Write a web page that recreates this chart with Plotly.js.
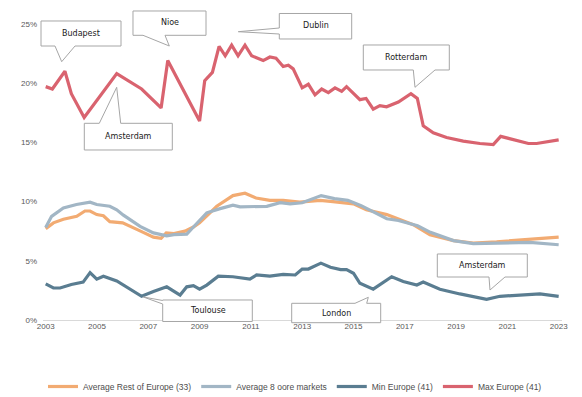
<!DOCTYPE html>
<html>
<head>
<meta charset="utf-8">
<script src="https://cdn.plot.ly/plotly-3.0.1.min.js"></script>
<style>html,body{margin:0;padding:0;background:#fff;}#chart{width:582px;height:397px;}</style>
</head>
<body>
<div id="chart"></div>
<script>
// Series names
const seriesNames = ["Average Rest of Europe (33)", "Average 8 oore markets", "Min Europe (41)", "Max Europe (41)"];

// Average Rest of Europe (33)
const avgRestX = [2003.0,2003.3,2003.69,2004.21,2004.53,2004.73,2004.99,2005.25,2005.5,2006.0,2006.7,2007.2,2007.5,2007.7,2008.0,2008.43,2008.76,2009.0,2009.67,2010.3,2010.77,2011.2,2011.74,2012.26,2012.9,2013.7,2014.2,2015.0,2015.5,2016.3,2017.33,2017.98,2018.9,2019.67,2020.58,2021.88,2023.0];
const avgRestY = [7.7,8.2,8.5,8.75,9.2,9.2,8.9,8.8,8.3,8.2,7.5,7.0,6.9,7.35,7.3,7.5,7.85,8.2,9.6,10.5,10.7,10.3,10.1,10.1,9.95,10.1,10.0,9.8,9.3,8.9,8.05,7.2,6.7,6.5,6.6,6.8,7.0];

// Average 8 core markets
const avgCoreX = [2003.0,2003.23,2003.69,2004.2,2004.73,2004.99,2005.5,2005.77,2006.03,2006.68,2007.2,2007.72,2008.0,2008.5,2008.76,2009.28,2009.8,2010.3,2010.58,2011.1,2011.62,2012.14,2012.53,2013.0,2013.35,2013.74,2014.26,2014.78,2015.3,2015.9,2016.3,2016.75,2017.5,2018.0,2018.9,2019.67,2020.58,2021.88,2023.0];
const avgCoreY = [7.8,8.75,9.45,9.75,9.95,9.75,9.6,9.3,8.85,7.9,7.35,7.1,7.2,7.25,7.85,9.05,9.4,9.7,9.55,9.6,9.6,9.9,9.8,9.9,10.2,10.5,10.25,10.1,9.65,8.95,8.55,8.4,7.95,7.4,6.7,6.45,6.5,6.55,6.35];

// Min Europe (41)
const minX = [2003.0,2003.3,2003.56,2004.0,2004.46,2004.73,2004.99,2005.25,2005.77,2006.74,2007.2,2007.72,2008.24,2008.5,2008.76,2009.0,2009.28,2009.73,2010.3,2010.96,2011.22,2011.74,2012.26,2012.73,2013.0,2013.24,2013.73,2014.1,2014.5,2014.73,2015.0,2015.25,2015.77,2016.49,2016.94,2017.47,2017.72,2018.37,2019.15,2020.19,2020.71,2021.49,2022.27,2023.0];
const minY = [3.05,2.7,2.7,3.0,3.2,4.0,3.45,3.7,3.3,2.0,2.4,2.8,2.1,2.8,2.9,2.6,2.95,3.7,3.65,3.45,3.8,3.7,3.85,3.8,4.3,4.3,4.8,4.45,4.25,4.25,3.95,3.1,2.6,3.65,3.25,2.95,3.2,2.6,2.2,1.75,2.0,2.1,2.2,2.0];

// Max Europe (41)
const maxX = [2003.0,2003.26,2003.75,2004.0,2004.5,2005.77,2006.74,2007.5,2007.76,2009.0,2009.2,2009.5,2009.76,2010.0,2010.25,2010.5,2010.77,2011.03,2011.48,2011.74,2011.98,2012.26,2012.46,2012.65,2013.0,2013.24,2013.5,2013.76,2014.02,2014.28,2014.54,2014.73,2015.25,2015.49,2015.77,2016.03,2016.29,2016.75,2017.24,2017.49,2017.72,2018.11,2018.63,2019.28,2019.93,2020.45,2020.74,2021.23,2021.82,2022.14,2022.66,2023.0];
const maxY = [19.7,19.5,21.0,19.1,17.1,20.8,19.5,17.9,21.9,16.8,20.2,20.9,23.1,22.3,23.2,22.3,23.2,22.3,21.9,22.2,22.1,21.4,21.5,21.2,19.6,19.9,19.0,19.5,19.2,19.6,19.3,19.7,18.6,18.7,17.8,18.1,18.0,18.4,19.1,18.7,16.4,15.8,15.4,15.1,14.9,14.8,15.5,15.2,14.9,14.9,15.1,15.2];

// Tick labels
const xTickVals = [2003,2005,2007,2009,2011,2013,2015,2017,2019,2021,2023];
const xTickText = ["2003","2005","2007","2009","2011","2013","2015","2017","2019","2021","2023"];
const yTickVals = [0,5,10,15,20,25];
const yTickText = ["0%","5%","10%","15%","20%","25%"];

// Callout labels
const calloutLabels = ["Budapest","Nioe","Dublin","Rotterdam","Amsterdam","Toulouse","London","Amsterdam"];

// Layout geometry (pixels)
const W = 582, H = 397;
const M = {l: 43, r: 20, t: 12, b: 77, autoexpand: false};
const PW = W - M.l - M.r, PH = H - M.t - M.b;
function px(x){ return (x - M.l) / PW; }
function py(y){ return (H - M.b - y) / PH; }

// Callout outlines (pixel positions): polygon points, and text centre
const calloutGeom = [
  {pts: [[41,21],[121,21],[121,46],[75,46],[61.7,61.7],[55,46],[41,46]], c: [81,34]},
  {pts: [[133,11],[206,11],[206,35.3],[165,35.3],[169.3,46],[143,35.3],[133,35.3]], c: [169.5,23]},
  {pts: [[279.3,13.5],[351.7,13.5],[351.7,39],[279.3,39],[279.3,34],[238.3,31.7],[279.3,28]], c: [315.5,26]},
  {pts: [[363.3,45],[449.3,45],[449.3,70],[435,70],[415,87.3],[413.3,70],[363.3,70]], c: [406.3,57.5]},
  {pts: [[84.3,123.3],[99.3,123.3],[116.7,87.3],[120.7,123.3],[172.3,123.3],[172.3,150],[84.3,150]], c: [128.3,136.7]},
  {pts: [[162.7,300],[252.3,300],[252.3,321.5],[162.7,321.5],[162.7,304],[143.3,297],[162.7,300.5]], c: [207.5,310.8]},
  {pts: [[291.7,303.3],[355,303.3],[368.3,297.3],[366.7,303.3],[380.7,303.3],[380.7,322.7],[291.7,322.7]], c: [336.2,313]},
  {pts: [[437.3,254],[527.3,254],[527.3,277],[505,277],[490,290],[489,277],[437.3,277]], c: [482.3,265.5]}
];

const colors = ["#F2AB72", "#A2B6C5", "#5A7D91", "#D9636F"];

const traces = [
  {x: avgRestX, y: avgRestY, name: seriesNames[0], color: colors[0]},
  {x: avgCoreX, y: avgCoreY, name: seriesNames[1], color: colors[1]},
  {x: minX, y: minY, name: seriesNames[2], color: colors[2]},
  {x: maxX, y: maxY, name: seriesNames[3], color: colors[3]}
].map(t => ({
  type: 'scatter', mode: 'lines', x: t.x, y: t.y, name: t.name,
  line: {color: t.color, width: 3.2, shape: 'linear'},
  hoverinfo: 'skip'
}));

const shapes = calloutGeom.map(g => ({
  type: 'path', xref: 'paper', yref: 'paper', layer: 'above',
  path: 'M ' + g.pts.map(p => px(p[0]).toFixed(5) + ' ' + py(p[1]).toFixed(5)).join(' L ') + ' Z',
  fillcolor: '#ffffff', line: {color: '#a6a6a6', width: 1}
}));

const annotations = calloutGeom.map((g, i) => ({
  xref: 'paper', yref: 'paper', x: px(g.c[0]), y: py(g.c[1]),
  xanchor: 'center', yanchor: 'middle', showarrow: false,
  text: calloutLabels[i],
  font: {family: 'DejaVu Sans', size: 8, color: '#1a1a1a'}
}));

const layout = {
  width: W, height: H,
  margin: M,
  paper_bgcolor: '#ffffff', plot_bgcolor: '#ffffff',
  showlegend: true,
  legend: {
    orientation: 'h', x: px(295), xanchor: 'center', y: py(372), yanchor: 'top',
    font: {family: 'Liberation Sans', size: 8.5, color: '#4d4d4d'},
    traceorder: 'normal', itemwidth: 30, tracegroupgap: 0
  },
  xaxis: {
    range: [2002.895, 2023.13], tickmode: 'array', tickvals: xTickVals, ticktext: xTickText,
    showgrid: false, zeroline: false, showline: false, ticks: '',
    tickfont: {family: 'Liberation Sans', size: 8, color: '#595959'}, fixedrange: true
  },
  yaxis: {
    range: [0, 26], tickmode: 'array', tickvals: yTickVals, ticktext: yTickText,
    showgrid: false, zeroline: true, zerolinecolor: '#d9d9d9', zerolinewidth: 1,
    showline: false, ticks: '', ticklabelstandoff: 5,
    tickfont: {family: 'Liberation Sans', size: 8, color: '#595959'}, fixedrange: true
  },
  shapes: shapes,
  annotations: annotations
};

Plotly.newPlot('chart', traces, layout, {displayModeBar: false, staticPlot: true});
</script>
</body>
</html>
